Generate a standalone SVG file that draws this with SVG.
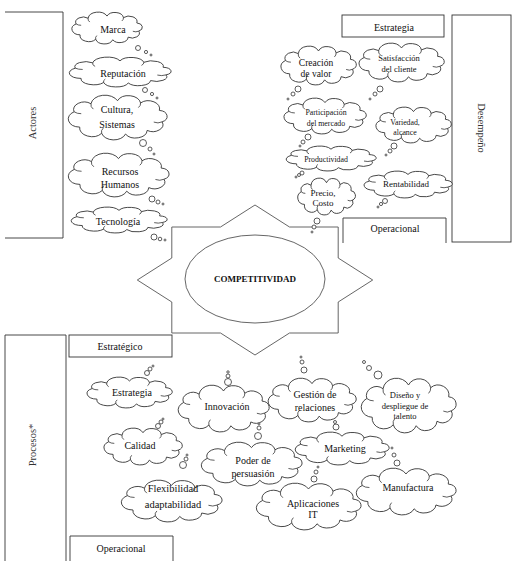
<svg xmlns="http://www.w3.org/2000/svg" xmlns:xlink="http://www.w3.org/1999/xlink" width="513" height="561" viewBox="0 0 513 561" font-family="'Liberation Serif', 'Times New Roman', Tinos, 'DejaVu Serif', serif">
<style>
.ln{fill:none;stroke:#333;stroke-width:0.9}
.bx{fill:#fff;stroke:#333;stroke-width:0.9}
.cl{fill:#fff;stroke:#333;stroke-width:0.9;vector-effect:non-scaling-stroke}
.ci{fill:none;stroke:#333;stroke-width:0.8;vector-effect:non-scaling-stroke}
.bu{fill:#fff;stroke:#333;stroke-width:0.8}
text{fill:#111;text-anchor:middle;font-size:10px}
.s9{font-size:9px}.s85{font-size:8.5px}.s8{font-size:7.8px}
</style>
<defs>
<g id="cloud" transform="scale(0.957,0.932)">
<path class="cl" d="M-39.5,-7.5 A9.7,9.7 0 0 1 -24.1,-18 A12.7,12.7 0 0 1 0,-22 A11,11 0 0 1 21,-19.1 A10.3,10.3 0 0 1 38.1,-9.3 A7.9,7.9 0 0 1 40.6,5.7 A9.2,9.2 0 0 1 27,16.9 A10.6,10.6 0 0 1 7.3,21.7 A11.3,11.3 0 0 1 -14.4,20.7 A11.2,11.2 0 0 1 -34.4,12.6 A10.8,10.8 0 0 1 -39.5,-7.5 Z"/>
<path class="ci" d="M-24.1,-18 A8,8 0 0 0 -22,-11 M21,-19.1 A8,8 0 0 1 19,-13 M40.6,5.7 A7,7 0 0 1 33,6 M-14.4,20.7 A8,8 0 0 1 -13,14 M-39.5,-7.5 A9,9 0 0 0 -33,-5"/>
</g>
</defs>

<g id="actores">
<path class="ln" d="M5,12 H63 V238 H5"/>
<text transform="translate(35.5,123) rotate(-90)" style="font-size:10.5px;fill:#333">Actores</text>
</g>
<g id="estrategia-box"><rect class="bx" x="342" y="15" width="102" height="22"/><text x="394" y="30.5">Estrategia</text></g>
<g id="desempeno"><rect class="bx" x="452" y="15" width="59" height="227"/><text transform="translate(477.5,128) rotate(90)" style="font-size:10.5px;fill:#333">Desempeño</text></g>
<g id="operacional-top"><path class="ln" d="M343,243 V218 H446 V243"/><text x="395" y="231.5">Operacional</text></g>
<g id="procesos"><path class="ln" d="M5,561 V335 H66 V561"/><text transform="translate(35.5,445) rotate(-90)" style="font-size:10.5px;fill:#333">Procesos*</text></g>
<g id="estrategico"><rect class="bx" x="69" y="335" width="103" height="22"/><text x="120" y="349.5">Estratégico</text></g>
<g id="operacional-bottom"><path class="ln" d="M70,561 V536 H173 V561"/><text x="121" y="551.5">Operacional</text></g>

<g id="competitividad">
<polygon class="bx" style="stroke:#555" points="372.7,280 338.2,302 338.2,333 289.5,333 255,355 220.5,333 171.8,333 171.8,302 137.3,280 171.8,258 171.8,227 220.5,227 255,205 289.5,227 338.2,227 338.2,258"/>
<ellipse class="bx" style="stroke:#555" cx="255" cy="279" rx="70" ry="44"/>
<text x="255" y="282" style="font-weight:bold;font-size:9px">COMPETITIVIDAD</text>
</g>

<g id="marca"><use xlink:href="#cloud" transform="translate(107,28) scale(0.818,0.582)"/><circle class="bu" cx="138" cy="48" r="2.5"/><circle class="bu" cx="146" cy="52" r="1.6"/><circle class="bu" cx="151" cy="55" r="1"/><text x="113" y="32.5">Marca</text></g>
<g id="reputacion"><use xlink:href="#cloud" transform="translate(120,72) scale(1.182,0.545)"/><circle class="bu" cx="145" cy="90" r="2.5"/><circle class="bu" cx="152" cy="94" r="1.6"/><circle class="bu" cx="157" cy="98" r="1"/><text x="123" y="76.5">Reputación</text></g>
<g id="cultura"><use xlink:href="#cloud" transform="translate(117.5,117.5) scale(1.148,0.818)"/><circle class="bu" cx="143" cy="143" r="3.5"/><circle class="bu" cx="150" cy="149" r="2"/><circle class="bu" cx="154" cy="154" r="1"/><text x="117" y="113">Cultura,</text><text x="117" y="127.5">Sistemas</text></g>
<g id="recursos"><use xlink:href="#cloud" transform="translate(118.5,175) scale(1.17,0.8)"/><circle class="bu" cx="152" cy="199" r="3"/><circle class="bu" cx="158" cy="202" r="2"/><circle class="bu" cx="163" cy="204" r="1"/><text x="120" y="174.5">Recursos</text><text x="120" y="187.5">Humanos</text></g>
<g id="tecnologia"><use xlink:href="#cloud" transform="translate(119,220) scale(1.114,0.473)"/><circle class="bu" cx="154" cy="237" r="3"/><circle class="bu" cx="160" cy="239" r="1.8"/><circle class="bu" cx="165" cy="240" r="1"/><text x="118" y="224.5">Tecnología</text></g>

<g id="creacion"><use xlink:href="#cloud" transform="translate(318.5,65.5) scale(0.875,0.709)"/><circle class="bu" cx="298" cy="89" r="3"/><circle class="bu" cx="293" cy="94" r="2"/><circle class="bu" cx="288" cy="99" r="1"/><text x="316" y="66" style="font-size:9.5px">Creación</text><text x="316" y="77" style="font-size:9.5px">de valor</text></g>
<g id="satisfaccion"><use xlink:href="#cloud" transform="translate(401.5,62.5) scale(0.989,0.709)"/><circle class="bu" cx="380" cy="89" r="3"/><circle class="bu" cx="375" cy="94" r="2"/><circle class="bu" cx="370" cy="99" r="1"/><text class="s85" x="399" y="61">Satisfacción</text><text class="s85" x="399" y="72">del cliente</text></g>
<g id="participacion"><use xlink:href="#cloud" transform="translate(325,116) scale(0.955,0.655)"/><circle class="bu" cx="308" cy="137" r="3"/><circle class="bu" cx="303" cy="142" r="2"/><circle class="bu" cx="300" cy="146" r="1"/><text class="s8" x="326" y="114.5">Participación</text><text class="s8" x="326" y="125.5">del mercado</text></g>
<g id="variedad"><use xlink:href="#cloud" transform="translate(413.5,125) scale(0.875,0.655)"/><circle class="bu" cx="394" cy="146" r="3"/><circle class="bu" cx="390" cy="151" r="2"/><circle class="bu" cx="386" cy="155" r="1"/><text class="s8" x="405" y="124.5">Variedad,</text><text class="s8" x="405" y="134.5">alcance</text></g>
<g id="productividad"><use xlink:href="#cloud" transform="translate(331,158.5) scale(1.045,0.455)"/><circle class="bu" cx="302" cy="173" r="2"/><circle class="bu" cx="299" cy="175" r="1.5"/><circle class="bu" cx="296" cy="177" r="1"/><text class="s8" x="326" y="161.5">Productividad</text></g>
<g id="rentabilidad"><use xlink:href="#cloud" transform="translate(408,184.5) scale(1.023,0.491)"/><circle class="bu" cx="385" cy="201" r="2.5"/><circle class="bu" cx="381" cy="204" r="1.6"/><circle class="bu" cx="378" cy="207" r="1"/><text class="s9" x="406" y="187">Rentabilidad</text></g>
<g id="precio"><use xlink:href="#cloud" transform="translate(326.5,196.5) scale(0.67,0.673)"/><circle class="bu" cx="317" cy="221" r="3"/><circle class="bu" cx="314" cy="227" r="2"/><circle class="bu" cx="312" cy="232" r="1"/><text class="s9" x="323" y="196">Precio,</text><text class="s9" x="323" y="206">Costo</text></g>

<g id="estrategia"><use xlink:href="#cloud" transform="translate(129.5,392.5) scale(0.989,0.564)"/><circle class="bu" cx="147" cy="373" r="2.5"/><circle class="bu" cx="150" cy="369" r="2"/><circle class="bu" cx="153" cy="366" r="1"/><text x="132" y="395.5">Estrategia</text></g>
<g id="innovacion"><use xlink:href="#cloud" transform="translate(223.5,408.5) scale(1.057,0.855)"/><circle class="bu" cx="228" cy="382" r="3.5"/><circle class="bu" cx="228" cy="376" r="2"/><circle class="bu" cx="228" cy="372" r="1.2"/><text x="227" y="409.5">Innovación</text></g>
<g id="calidad"><use xlink:href="#cloud" transform="translate(143,446.5) scale(0.909,0.673)"/><circle class="bu" cx="158" cy="426" r="2.5"/><circle class="bu" cx="161" cy="422" r="2"/><circle class="bu" cx="163" cy="419" r="1"/><text x="140" y="448.5">Calidad</text></g>
<g id="flexibilidad"><use xlink:href="#cloud" transform="translate(171.5,501) scale(1.17,0.764)"/><circle class="bu" cx="183" cy="465" r="3.5"/><circle class="bu" cx="186" cy="459" r="2"/><circle class="bu" cx="187" cy="455" r="1"/><text x="173" y="491.5" style="font-size:10.5px">Flexibilidad</text><text x="173" y="507.5" style="font-size:10.5px">adaptabilidad</text></g>
<g id="poder"><use xlink:href="#cloud" transform="translate(251.5,464) scale(1.17,0.8)"/><circle class="bu" cx="258" cy="436" r="3.5"/><circle class="bu" cx="259" cy="428" r="2"/><circle class="bu" cx="259" cy="424" r="1"/><text x="253" y="463.5">Poder de</text><text x="253" y="476.5">persuasión</text></g>
<g id="gestion"><use xlink:href="#cloud" transform="translate(312,400) scale(1.023,0.8)"/><circle class="bu" cx="304" cy="370" r="3"/><circle class="bu" cx="302" cy="362" r="2"/><circle class="bu" cx="301" cy="357" r="1"/><text x="315" y="397.5">Gestión de</text><text x="315" y="410.5">relaciones</text></g>
<g id="diseno"><use xlink:href="#cloud" transform="translate(408.5,405.5) scale(1.102,1)"/><circle class="bu" cx="378" cy="375" r="4"/><circle class="bu" cx="369" cy="368" r="2.5"/><circle class="bu" cx="364" cy="362" r="1.5"/><text class="s85" x="405" y="398">Diseño y</text><text class="s85" x="405" y="409">despliegue de</text><text class="s85" x="405" y="419">talento</text></g>
<g id="aplicaciones"><use xlink:href="#cloud" transform="translate(308.5,506.5) scale(1.216,0.855)"/><circle class="bu" cx="314" cy="479" r="3"/><circle class="bu" cx="316" cy="472" r="2"/><circle class="bu" cx="318" cy="467" r="1"/><text x="313" y="506.5">Aplicaciones</text><text x="313" y="517.5">IT</text></g>
<g id="marketing"><use xlink:href="#cloud" transform="translate(342,448.5) scale(1.091,0.6)"/><circle class="bu" cx="336" cy="427" r="3"/><circle class="bu" cx="335" cy="422" r="1.5"/><text x="345" y="451.5">Marketing</text></g>
<g id="manufactura"><use xlink:href="#cloud" transform="translate(406,491.5) scale(1.159,0.855)"/><circle class="bu" cx="397" cy="463" r="3"/><circle class="bu" cx="394" cy="455" r="2"/><circle class="bu" cx="392" cy="448" r="1"/><text x="408" y="490.5">Manufactura</text></g>
<g id="connectors"></g>
</svg>
